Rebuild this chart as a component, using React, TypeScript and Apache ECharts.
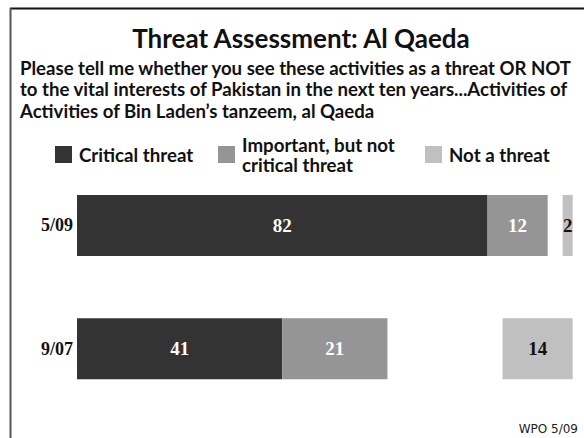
import React, { useEffect, useRef } from "react";
import * as echarts from "echarts";

const categories = ["5/09", "9/07"];
const criticalThreat = [82, 41];
const importantNotCritical = [12, 21];
const notAThreat = [2, 14];
const seriesNames = ["Critical threat", "Important, but not critical threat", "Not a threat"];
const titleText = "Threat Assessment: Al Qaeda";
const subtitleLines = [
  "Please tell me whether you see these activities as a threat OR NOT",
  "to the vital interests of Pakistan in the next ten years...Activities of",
  "Activities of Bin Laden\u2019s tanzeem, al Qaeda",
];
const sourceText = "WPO 5/09";

const COLORS = ["#333333", "#959595", "#c0c0c0"];
const SANS = "Lato, 'Open Sans', sans-serif";
const SERIF = "'Liberation Serif', 'DejaVu Serif', serif";

export default function App() {
  const ref = useRef<HTMLDivElement>(null);
  useEffect(() => {
    if (!ref.current) return;
    const chart = echarts.init(ref.current, undefined, { renderer: "svg" });
    const labelStyle = (color: string) => ({
      show: true,
      position: "inside",
      color,
      fontFamily: SERIF,
      fontWeight: "bold",
      fontSize: 19,
    });
    const legendText = {
      fontFamily: SANS,
      fontWeight: "bold",
      fontSize: 18.7,
      color: "#111",
      padding: [0, 0, 0, 2],
    };
    chart.setOption({
      animation: false,
      backgroundColor: "#ffffff",
      grid: {
        left: 77,
        right: 6.3,
        top: 163.8,
        bottom: 27.6,
        containLabel: false,
        outerBoundsMode: "none",
      },
      legend: [
        {
          data: [seriesNames[0]],
          left: 55,
          top: 145,
          padding: 0,
          itemWidth: 17,
          itemHeight: 17,
          icon: "rect",
          textStyle: legendText,
          selectedMode: false,
        },
        {
          data: [seriesNames[1]],
          left: 218,
          top: 134.5,
          padding: 0,
          itemWidth: 17,
          itemHeight: 17,
          icon: "rect",
          formatter: () => "Important, but not\ncritical threat",
          textStyle: { ...legendText, lineHeight: 20 },
          selectedMode: false,
        },
        {
          data: [seriesNames[2]],
          left: 425,
          top: 145,
          padding: 0,
          itemWidth: 17,
          itemHeight: 17,
          icon: "rect",
          textStyle: legendText,
          selectedMode: false,
        },
      ],
      xAxis: [
        { type: "value", min: 0, max: 100, show: false },
        { type: "value", min: -1, max: 99, inverse: true, show: false },
      ],
      yAxis: {
        type: "category",
        data: categories,
        inverse: true,
        axisLine: { show: false },
        axisTick: { show: false },
        splitLine: { show: false },
        axisLabel: {
          margin: 4,
          color: "#111",
          fontFamily: SERIF,
          fontWeight: "bold",
          fontSize: 18,
        },
      },
      series: [
        {
          name: seriesNames[0],
          type: "bar",
          stack: "a",
          xAxisIndex: 0,
          data: criticalThreat,
          barWidth: 61,
          barGap: "-100%",
          itemStyle: { color: COLORS[0] },
          label: labelStyle("#ffffff"),
        },
        {
          name: seriesNames[1],
          type: "bar",
          stack: "a",
          xAxisIndex: 0,
          data: importantNotCritical,
          barWidth: 61,
          barGap: "-100%",
          itemStyle: { color: COLORS[1] },
          label: labelStyle("#ffffff"),
        },
        {
          name: seriesNames[2],
          type: "bar",
          xAxisIndex: 1,
          data: notAThreat,
          barWidth: 61,
          barGap: "-100%",
          itemStyle: { color: COLORS[2] },
          label: labelStyle("#111111"),
        },
      ],
      graphic: [
        {
          type: "line",
          shape: { x1: 10, y1: 8.5, x2: 584, y2: 8.5 },
          style: { stroke: "#111", lineWidth: 2 },
          silent: true,
        },
        {
          type: "line",
          shape: { x1: 10.5, y1: 8, x2: 10.5, y2: 438 },
          style: { stroke: "#555", lineWidth: 2 },
          silent: true,
        },
        {
          type: "text",
          x: 301,
          y: 38,
          style: {
            text: titleText,
            fill: "#111",
            font: `bold 26px ${SANS}`,
            textAlign: "center",
            textVerticalAlign: "middle",
          },
        },
        {
          type: "text",
          x: 20,
          y: 57,
          style: {
            text: subtitleLines.join("\n"),
            fill: "#111",
            fontFamily: SANS,
            fontWeight: "bold",
            fontSize: 18.6,
            lineHeight: 21.5,
            textAlign: "left",
            textVerticalAlign: "top",
          },
        },
        {
          type: "text",
          x: 578,
          y: 429,
          style: {
            text: sourceText,
            fill: "#222",
            fontFamily: "'DejaVu Sans', sans-serif",
            fontSize: 12,
            textAlign: "right",
            textVerticalAlign: "middle",
          },
        },
      ],
    });
    return () => chart.dispose();
  }, []);
  return (
    <div
      ref={ref}
      style={{ position: "fixed", left: 0, top: 0, width: 584, height: 438 }}
    />
  );
}
